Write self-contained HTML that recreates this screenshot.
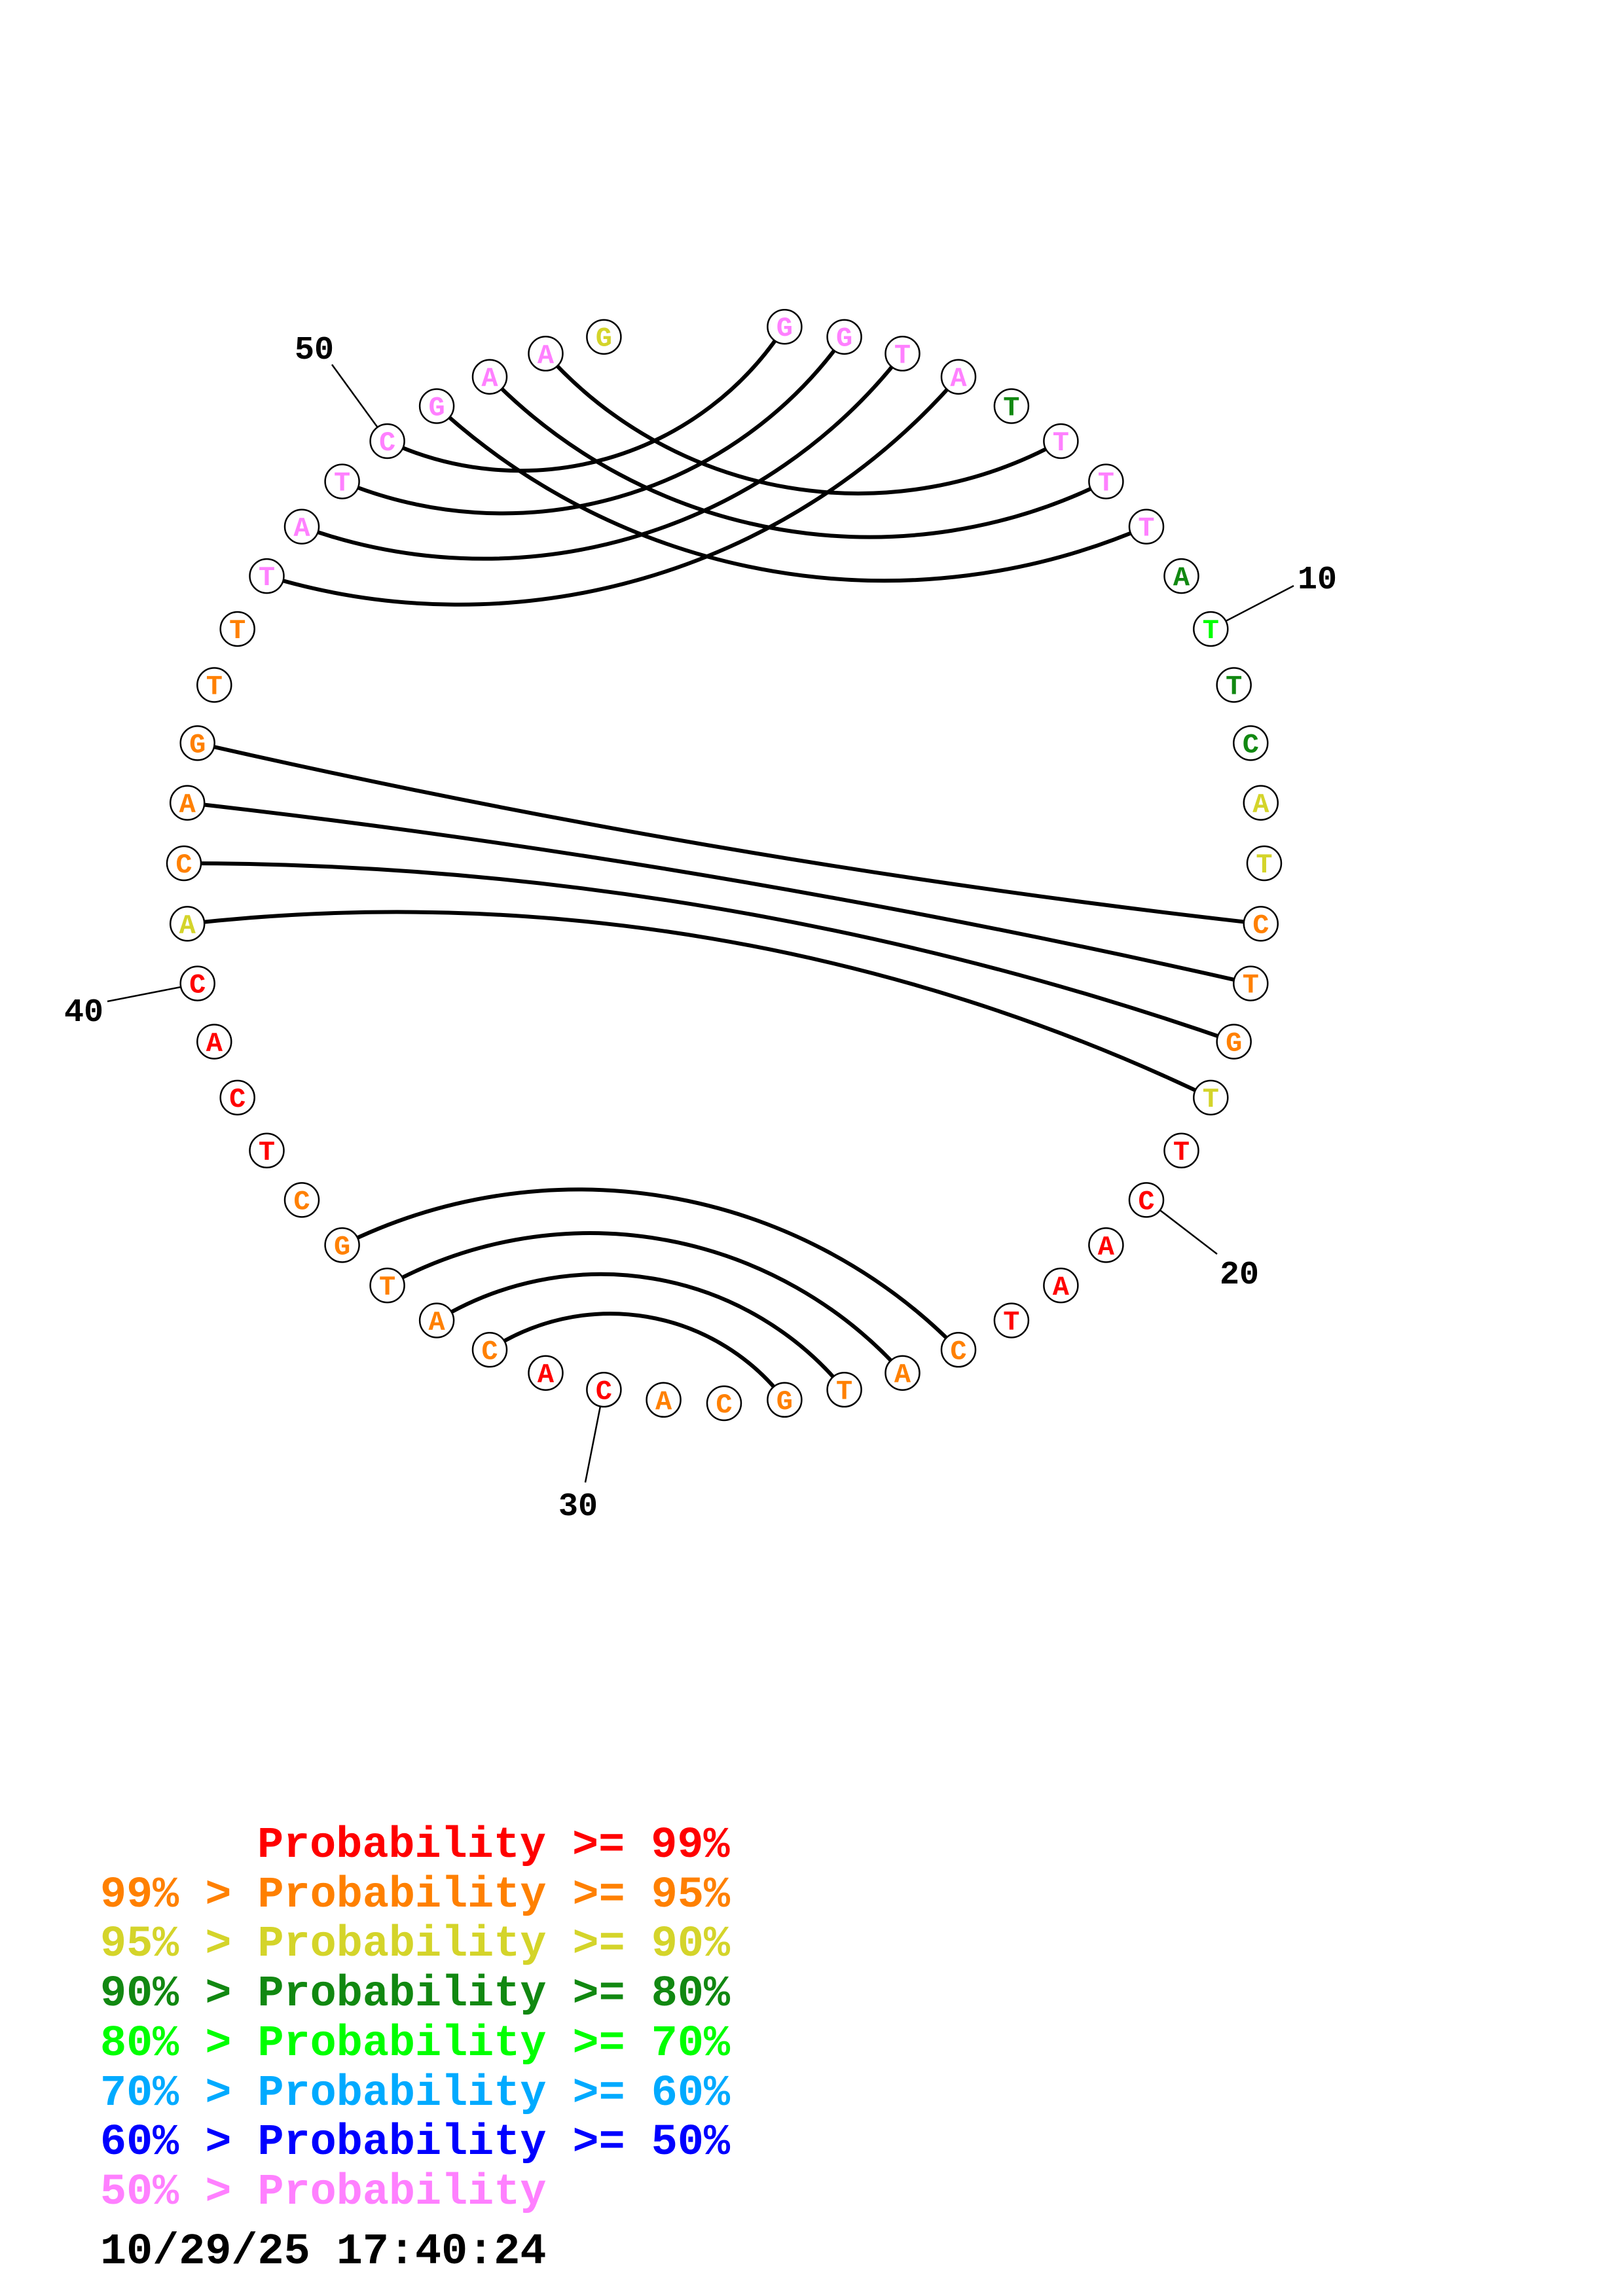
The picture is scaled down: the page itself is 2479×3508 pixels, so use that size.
<!DOCTYPE html>
<html><head><meta charset="utf-8"><style>
html,body{margin:0;padding:0;background:#fff;}
svg{display:block;}
.n{font-family:"Liberation Mono",monospace;font-weight:bold;font-size:42px;text-anchor:middle;}
.l{font-family:"Liberation Mono",monospace;font-weight:bold;font-size:50px;text-anchor:middle;fill:#000;}
.g{font-family:"Liberation Mono",monospace;font-weight:bold;font-size:66.8px;white-space:pre;}
</style></head><body>
<svg width="2479" height="3508" viewBox="0 0 2479 3508" xmlns="http://www.w3.org/2000/svg">
<rect width="2479" height="3508" fill="#fff"/>
<g transform="translate(-7,-11)">
<g fill="none" stroke="#000" stroke-width="6">
<path d="M598.6 685.0 A480 480 0 0 0 1205.4 510.2"/>
<path d="M529.6 746.6 A640 640 0 0 0 1296.6 525.7"/>
<path d="M468.0 815.6 A810 810 0 0 0 1385.5 551.3"/>
<path d="M414.5 891.1 A1010 1010 0 0 0 1471.0 586.7"/>
<path d="M840.5 551.3 A640 640 0 0 0 1627.4 685.0"/>
<path d="M755.0 586.7 A810 810 0 0 0 1696.4 746.6"/>
<path d="M674.1 631.5 A1010 1010 0 0 0 1758.0 815.6"/>
<path d="M308.7 1146.4 A14693 14693 0 0 0 1932.8 1422.4"/>
<path d="M1917.3 1513.6 A14693 14693 0 0 0 293.2 1237.6"/>
<path d="M1891.7 1602.5 A4860 4860 0 0 0 288 1330"/>
<path d="M1856.3 1688.0 A2865 2865 0 0 0 293.2 1422.4"/>
<path d="M1471.0 2073.3 A810 810 0 0 0 529.6 1913.4"/>
<path d="M1385.5 2108.7 A640 640 0 0 0 598.6 1975.0"/>
<path d="M1296.6 2134.3 A480 480 0 0 0 674.1 2028.5"/>
<path d="M1205.4 2149.8 A335 335 0 0 0 755.0 2073.3"/>
</g>
<g stroke="#000" stroke-width="2.5">
<line x1="1856" y1="972" x2="1983" y2="906"/>
<line x1="1758" y1="1844" x2="1866" y2="1927"/>
<line x1="929" y1="2134" x2="901" y2="2276"/>
<line x1="171" y1="1541" x2="309" y2="1514"/>
<line x1="514" y1="568" x2="599" y2="685"/>
</g>
<text class="l" x="2019" y="910">10</text>
<text class="l" x="1900" y="1972">20</text>
<text class="l" x="890" y="2326">30</text>
<text class="l" x="135" y="1571">40</text>
<text class="l" x="487" y="559">50</text>
<g fill="#fff" stroke="#000" stroke-width="2.5">
<circle cx="1205.4" cy="510.2" r="26"/><circle cx="1296.6" cy="525.7" r="26"/><circle cx="1385.5" cy="551.3" r="26"/><circle cx="1471.0" cy="586.7" r="26"/><circle cx="1551.9" cy="631.5" r="26"/><circle cx="1627.4" cy="685.0" r="26"/><circle cx="1696.4" cy="746.6" r="26"/><circle cx="1758.0" cy="815.6" r="26"/><circle cx="1811.5" cy="891.1" r="26"/><circle cx="1856.3" cy="972.0" r="26"/><circle cx="1891.7" cy="1057.5" r="26"/><circle cx="1917.3" cy="1146.4" r="26"/><circle cx="1932.8" cy="1237.6" r="26"/><circle cx="1938" cy="1330" r="26"/><circle cx="1932.8" cy="1422.4" r="26"/><circle cx="1917.3" cy="1513.6" r="26"/><circle cx="1891.7" cy="1602.5" r="26"/><circle cx="1856.3" cy="1688.0" r="26"/><circle cx="1811.5" cy="1768.9" r="26"/><circle cx="1758.0" cy="1844.4" r="26"/><circle cx="1696.4" cy="1913.4" r="26"/><circle cx="1627.4" cy="1975.0" r="26"/><circle cx="1551.9" cy="2028.5" r="26"/><circle cx="1471.0" cy="2073.3" r="26"/><circle cx="1385.5" cy="2108.7" r="26"/><circle cx="1296.6" cy="2134.3" r="26"/><circle cx="1205.4" cy="2149.8" r="26"/><circle cx="1113" cy="2155" r="26"/><circle cx="1020.6" cy="2149.8" r="26"/><circle cx="929.4" cy="2134.3" r="26"/><circle cx="840.5" cy="2108.7" r="26"/><circle cx="755.0" cy="2073.3" r="26"/><circle cx="674.1" cy="2028.5" r="26"/><circle cx="598.6" cy="1975.0" r="26"/><circle cx="529.6" cy="1913.4" r="26"/><circle cx="468.0" cy="1844.4" r="26"/><circle cx="414.5" cy="1768.9" r="26"/><circle cx="369.7" cy="1688.0" r="26"/><circle cx="334.3" cy="1602.5" r="26"/><circle cx="308.7" cy="1513.6" r="26"/><circle cx="293.2" cy="1422.4" r="26"/><circle cx="288" cy="1330" r="26"/><circle cx="293.2" cy="1237.6" r="26"/><circle cx="308.7" cy="1146.4" r="26"/><circle cx="334.3" cy="1057.5" r="26"/><circle cx="369.7" cy="972.0" r="26"/><circle cx="414.5" cy="891.1" r="26"/><circle cx="468.0" cy="815.6" r="26"/><circle cx="529.6" cy="746.6" r="26"/><circle cx="598.6" cy="685.0" r="26"/><circle cx="674.1" cy="631.5" r="26"/><circle cx="755.0" cy="586.7" r="26"/><circle cx="840.5" cy="551.3" r="26"/><circle cx="929.4" cy="525.7" r="26"/>
</g>
<g class="n">
<text x="1205.4" y="524.2" fill="#ff80ff">G</text>
<text x="1296.6" y="539.7" fill="#ff80ff">G</text>
<text x="1385.5" y="565.3" fill="#ff80ff">T</text>
<text x="1471.0" y="600.7" fill="#ff80ff">A</text>
<text x="1551.9" y="645.5" fill="#118811">T</text>
<text x="1627.4" y="699.0" fill="#ff80ff">T</text>
<text x="1696.4" y="760.6" fill="#ff80ff">T</text>
<text x="1758.0" y="829.6" fill="#ff80ff">T</text>
<text x="1811.5" y="905.1" fill="#118811">A</text>
<text x="1856.3" y="986.0" fill="#00ff00">T</text>
<text x="1891.7" y="1071.5" fill="#118811">T</text>
<text x="1917.3" y="1160.4" fill="#118811">C</text>
<text x="1932.8" y="1251.6" fill="#d4d42a">A</text>
<text x="1938" y="1344" fill="#d4d42a">T</text>
<text x="1932.8" y="1436.4" fill="#ff8000">C</text>
<text x="1917.3" y="1527.6" fill="#ff8000">T</text>
<text x="1891.7" y="1616.5" fill="#ff8000">G</text>
<text x="1856.3" y="1702.0" fill="#d4d42a">T</text>
<text x="1811.5" y="1782.9" fill="#ff0000">T</text>
<text x="1758.0" y="1858.4" fill="#ff0000">C</text>
<text x="1696.4" y="1927.4" fill="#ff0000">A</text>
<text x="1627.4" y="1989.0" fill="#ff0000">A</text>
<text x="1551.9" y="2042.5" fill="#ff0000">T</text>
<text x="1471.0" y="2087.3" fill="#ff8000">C</text>
<text x="1385.5" y="2122.7" fill="#ff8000">A</text>
<text x="1296.6" y="2148.3" fill="#ff8000">T</text>
<text x="1205.4" y="2163.8" fill="#ff8000">G</text>
<text x="1113" y="2169" fill="#ff8000">C</text>
<text x="1020.6" y="2163.8" fill="#ff8000">A</text>
<text x="929.4" y="2148.3" fill="#ff0000">C</text>
<text x="840.5" y="2122.7" fill="#ff0000">A</text>
<text x="755.0" y="2087.3" fill="#ff8000">C</text>
<text x="674.1" y="2042.5" fill="#ff8000">A</text>
<text x="598.6" y="1989.0" fill="#ff8000">T</text>
<text x="529.6" y="1927.4" fill="#ff8000">G</text>
<text x="468.0" y="1858.4" fill="#ff8000">C</text>
<text x="414.5" y="1782.9" fill="#ff0000">T</text>
<text x="369.7" y="1702.0" fill="#ff0000">C</text>
<text x="334.3" y="1616.5" fill="#ff0000">A</text>
<text x="308.7" y="1527.6" fill="#ff0000">C</text>
<text x="293.2" y="1436.4" fill="#d4d42a">A</text>
<text x="288" y="1344" fill="#ff8000">C</text>
<text x="293.2" y="1251.6" fill="#ff8000">A</text>
<text x="308.7" y="1160.4" fill="#ff8000">G</text>
<text x="334.3" y="1071.5" fill="#ff8000">T</text>
<text x="369.7" y="986.0" fill="#ff8000">T</text>
<text x="414.5" y="905.1" fill="#ff80ff">T</text>
<text x="468.0" y="829.6" fill="#ff80ff">A</text>
<text x="529.6" y="760.6" fill="#ff80ff">T</text>
<text x="598.6" y="699.0" fill="#ff80ff">C</text>
<text x="674.1" y="645.5" fill="#ff80ff">G</text>
<text x="755.0" y="600.7" fill="#ff80ff">A</text>
<text x="840.5" y="565.3" fill="#ff80ff">A</text>
<text x="929.4" y="539.7" fill="#d4d42a">G</text>
</g>
</g>
<g class="g">
<text x="393" y="2837" fill="#ff0000">Probability &gt;= 99%</text>
<text x="153" y="2913" fill="#ff8000">99% &gt; Probability &gt;= 95%</text>
<text x="153" y="2988" fill="#d4d42a">95% &gt; Probability &gt;= 90%</text>
<text x="153" y="3064" fill="#118811">90% &gt; Probability &gt;= 80%</text>
<text x="153" y="3140" fill="#00ff00">80% &gt; Probability &gt;= 70%</text>
<text x="153" y="3216" fill="#00aaff">70% &gt; Probability &gt;= 60%</text>
<text x="153" y="3291" fill="#0000ff">60% &gt; Probability &gt;= 50%</text>
<text x="153" y="3367" fill="#ff80ff">50% &gt; Probability</text>
<text x="153" y="3458" fill="#000">10/29/25 17:40:24</text>
</g>
</svg>
</body></html>
